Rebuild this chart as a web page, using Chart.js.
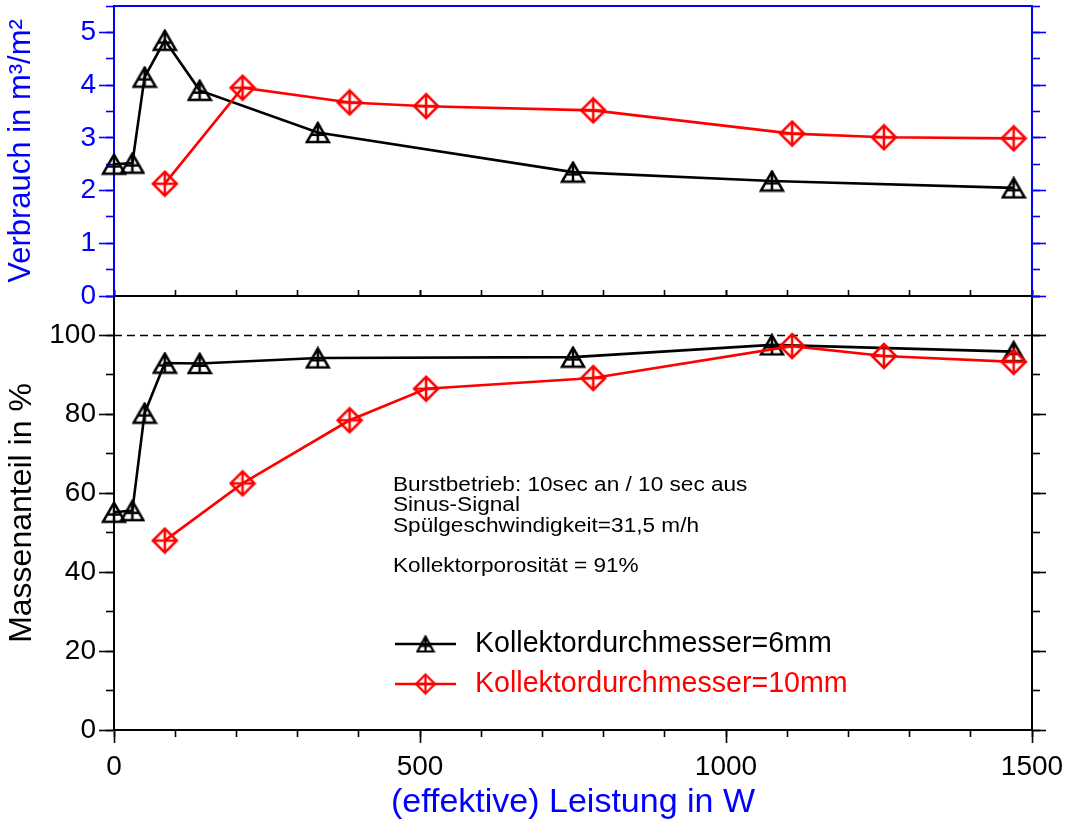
<!DOCTYPE html>
<html><head><meta charset="utf-8">
<script src="https://cdn.jsdelivr.net/npm/chart.js@4.4.1/dist/chart.umd.min.js"></script>
<style>
html,body{margin:0;padding:0;background:#fff;}
#wrap{position:relative;width:1069px;height:825px;overflow:hidden;background:#fff;}
canvas{position:absolute;left:0;}
#cTop{top:0;} #cBot{top:290px;}
</style></head><body>
<div id="wrap"><canvas id="cBot" width="1069" height="535"></canvas><canvas id="cTop" width="1069" height="320"></canvas></div>
<script>
// ---- data ----
const powerD6 = [0, 30, 50, 83, 140, 333, 750, 1075, 1470];
const verbrauchD6 = [2.5, 2.52, 4.15, 4.85, 3.9, 3.1, 2.35, 2.18, 2.05];
const anteilD6 = [55.2, 55.6, 80.3, 93.0, 92.9, 94.3, 94.5, 97.6, 95.9];
const powerD10 = [83, 210, 385, 510, 783, 1108, 1258, 1470];
const verbrauchD10 = [2.13, 3.95, 3.67, 3.6, 3.52, 3.08, 3.01, 2.99];
const anteilD10 = [48, 62.5, 78.5, 86.5, 89.2, 97.3, 94.8, 93.3];
const refLineX = [0, 1500];
const refLineY = 100;
const xTickLabels = [0, 500, 1000, 1500];
const topYTickLabels = [0, 1, 2, 3, 4, 5];
const botYTickLabels = [0, 20, 40, 60, 80, 100];
const seriesNames = ['Kollektordurchmesser=6mm', 'Kollektordurchmesser=10mm'];
const noteLines = ['Burstbetrieb: 10sec an / 10 sec aus', 'Sinus-Signal', 'Spülgeschwindigkeit=31,5 m/h', '', 'Kollektorporosität = 91%'];
const titleTopY = 'Verbrauch in m³/m²';
const titleBotY = 'Massenanteil in %';
const titleX = '(effektive) Leistung in W';

// ---- styles ----
const BLUE = '#0000ff', RED = '#ff0000', BLACK = '#000000';
const FONT = '"Liberation Sans", Arial, Helvetica, sans-serif';
Chart.defaults.font.family = FONT;

function makeTriangle(color, w, h, lw) {
  const c = document.createElement('canvas');
  c.width = w + 4; c.height = h + 4;
  const g = c.getContext('2d');
  g.strokeStyle = color; g.lineWidth = lw; g.lineJoin = 'miter';
  const cx = c.width / 2, top = 2, bot = 2 + h, l = 2, r = 2 + w;
  g.beginPath(); g.moveTo(cx, top); g.lineTo(r, bot); g.lineTo(l, bot); g.closePath(); g.stroke();
  g.beginPath(); g.moveTo(cx, top); g.lineTo(cx, bot);
  const my = top + h * 0.62, half = (w / 2) * 0.62;
  g.moveTo(cx - half, my); g.lineTo(cx + half, my); g.stroke();
  return c;
}
function makeDiamond(color, s, lw) {
  const c = document.createElement('canvas');
  c.width = s + 4; c.height = s + 4;
  const g = c.getContext('2d');
  g.strokeStyle = color; g.lineWidth = lw;
  const m = c.width / 2, a = 2, b = 2 + s;
  g.beginPath(); g.moveTo(m, a); g.lineTo(b, m); g.lineTo(m, b); g.lineTo(a, m); g.closePath(); g.stroke();
  g.beginPath(); g.moveTo(m, a); g.lineTo(m, b); g.moveTo(a, m); g.lineTo(b, m); g.stroke();
  return c;
}
const triMarker = makeTriangle(BLACK, 22, 19, 2.5);
const diaMarker = makeDiamond(RED, 24, 2.5);
const triLegend = makeTriangle(BLACK, 16, 15, 2.2);
const diaLegend = makeDiamond(RED, 19, 2.2);

function pts(xs, ys) { return xs.map((x, i) => ({x, y: ys[i]})); }
function noPad(s) { s.paddingLeft = 0; s.paddingRight = 0; s.paddingTop = 0; s.paddingBottom = 0; }

function axis(o) {
  return {
    type: 'linear', position: o.position, weight: o.weight || 0, min: o.min, max: o.max,
    ticks: Object.assign({display: false, stepSize: o.step, includeBounds: false}, o.ticks || {}),
    grid: {display: true, drawOnChartArea: false, drawTicks: o.tl > 0, tickLength: o.tl || 0, tickColor: o.color, tickWidth: 1.6},
    border: {display: o.border !== false, color: o.color, width: 2},
    title: o.title || {display: false},
    afterFit: s => { if (o.width !== undefined) s.width = o.width; if (o.height !== undefined) s.height = o.height; noPad(s); }
  };
}

function lineDs(label, data, color, marker, order) {
  return {label, data, borderColor: color, backgroundColor: color, borderWidth: 2.6, tension: 0,
    pointStyle: marker, pointRadius: 10, pointHoverRadius: 10, clip: false, order, xAxisID: 'x', yAxisID: 'y'};
}

const common = {
  responsive: false, animation: false, devicePixelRatio: 1,
  parsing: true,
  plugins: {legend: {display: false}, tooltip: {enabled: false}},
  events: []
};

// ---- top chart ----
new Chart(document.getElementById('cTop'), {
  type: 'line',
  data: {datasets: [
    lineDs(seriesNames[1], pts(powerD10, verbrauchD10), RED, diaMarker, 0),
    lineDs(seriesNames[0], pts(powerD6, verbrauchD6), BLACK, triMarker, 1)
  ]},
  options: Object.assign({}, common, {
    layout: {padding: {left: 0, right: 0, top: 6, bottom: 24}, autoPadding: false},
    scales: {
      x: axis({position: 'top', min: 0, max: 1500, step: 500, tl: 0, color: BLUE, height: 0}),
      y: axis({position: 'left', weight: 1, min: 0, max: 5.5, step: 1, tl: 15, color: BLUE, width: 114,
        ticks: {display: true, color: BLUE, font: {size: 28}, padding: 3,
          callback: v => topYTickLabels.includes(v) ? String(v) : ''},
        title: {display: true, text: titleTopY, color: BLUE, font: {size: 31}, padding: {top: 3, bottom: 0}}}),
      yMinor: axis({position: 'left', weight: 0, min: 0, max: 5.5, step: 0.5, tl: 8, color: BLUE, width: 0}),
      yR: axis({position: 'right', weight: 1, min: 0, max: 5.5, step: 1, tl: 14, color: BLUE, width: 37}),
      yRMinor: axis({position: 'right', weight: 0, min: 0, max: 5.5, step: 0.5, tl: 8, color: BLUE, width: 0})
    }
  })
});

// ---- bottom chart ----
const overlayPlugin = {
  id: 'overlay',
  afterDraw(chart) {
    const ctx = chart.ctx;
    ctx.save();
    ctx.fillStyle = BLACK;
    ctx.font = '19px ' + FONT;
    ctx.textBaseline = 'alphabetic';
    ctx.textAlign = 'left';
    noteLines.forEach((t, i) => {
      ctx.save(); ctx.translate(393, 201 + i * 20.3); ctx.scale(1.19, 1.02); ctx.fillText(t, 0, 0); ctx.restore();
    });
    const rows = [
      {name: seriesNames[0], color: BLACK, marker: triLegend, y: 354},
      {name: seriesNames[1], color: RED, marker: diaLegend, y: 394}
    ];
    rows.forEach(r => {
      ctx.strokeStyle = r.color; ctx.lineWidth = 2.6;
      ctx.beginPath(); ctx.moveTo(395, r.y); ctx.lineTo(456, r.y); ctx.stroke();
      ctx.drawImage(r.marker, 425.5 - r.marker.width / 2, r.y - r.marker.height / 2);
      ctx.fillStyle = r.color; ctx.font = '28.6px ' + FONT; ctx.textBaseline = 'middle';
      ctx.fillText(r.name, 475, r.y);
    });
    ctx.restore();
  }
};

new Chart(document.getElementById('cBot'), {
  type: 'line',
  data: {datasets: [
    lineDs(seriesNames[1], pts(powerD10, anteilD10), RED, diaMarker, 0),
    lineDs(seriesNames[0], pts(powerD6, anteilD6), BLACK, triMarker, 1),
    {label: 'ref', data: refLineX.map(x => ({x, y: refLineY})), borderColor: BLACK, borderWidth: 1.5,
      borderDash: [8, 5], pointRadius: 0, order: 2, xAxisID: 'x', yAxisID: 'y'}
  ]},
  options: Object.assign({}, common, {
    layout: {padding: {left: 0, right: 0, top: 6, bottom: 0}, autoPadding: false},
    scales: {
      x: axis({position: 'bottom', weight: 1, min: 0, max: 1500, step: 500, tl: 13, color: BLACK, height: 95,
        ticks: {display: true, color: BLACK, font: {size: 28}, padding: 7, maxRotation: 0, autoSkip: false,
          callback: v => xTickLabels.includes(v) ? String(v) : ''},
        title: {display: true, text: titleX, color: BLUE, font: {size: 34}, padding: {top: 0, bottom: 2}}}),
      xMinor: axis({position: 'bottom', weight: 0, min: 0, max: 1500, step: 100, tl: 7, color: BLACK, height: 0}),
      xTop: axis({position: 'top', weight: 0, min: 0, max: 1500, step: 100, tl: 7, color: BLACK, height: 0}),
      xTopMajor: axis({position: 'top', weight: 1, min: 0, max: 1500, step: 500, tl: 13, color: BLACK, height: 0, border: false}),
      y: axis({position: 'left', weight: 1, min: 0, max: 110, step: 20, tl: 15, color: BLACK, width: 114,
        ticks: {display: true, color: BLACK, font: {size: 28}, padding: 3,
          callback: v => botYTickLabels.includes(v) ? String(v) : ''},
        title: {display: true, text: titleBotY, color: BLACK, font: {size: 32}, padding: {top: 3, bottom: 0}}}),
      yMinor: axis({position: 'left', weight: 0, min: 0, max: 110, step: 10, tl: 8, color: BLACK, width: 0}),
      yR: axis({position: 'right', weight: 1, min: 0, max: 110, step: 20, tl: 14, color: BLACK, width: 37}),
      yRMinor: axis({position: 'right', weight: 0, min: 0, max: 110, step: 10, tl: 8, color: BLACK, width: 0})
    }
  }),
  plugins: [overlayPlugin]
});
</script>
</body></html>
